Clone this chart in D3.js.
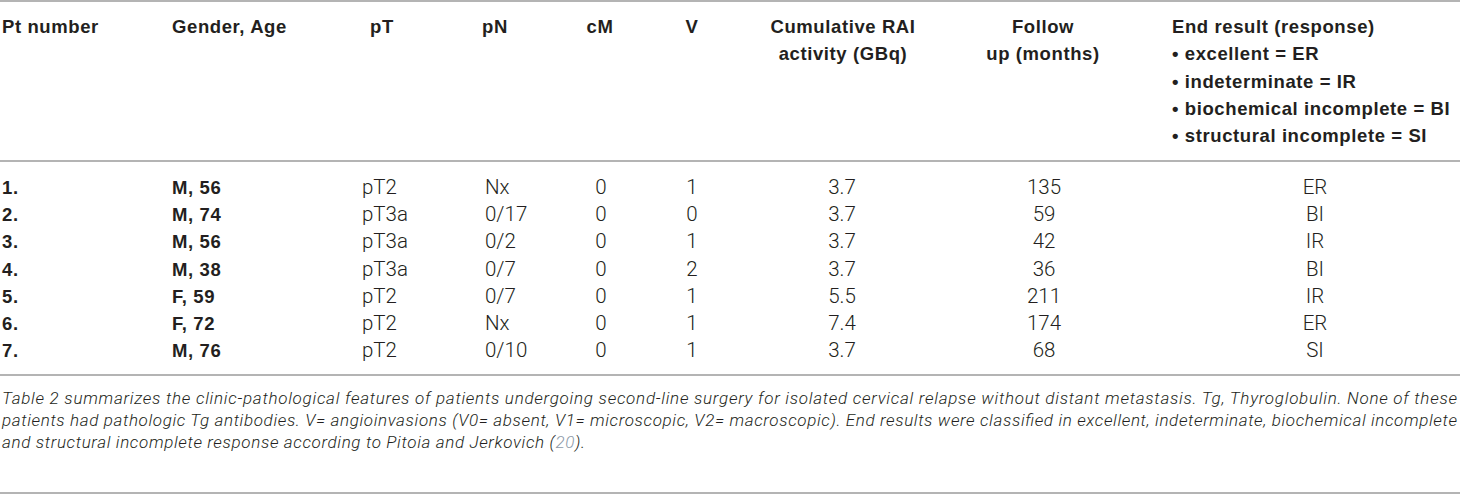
<!DOCTYPE html>
<html>
<head>
<meta charset="utf-8">
<script src="https://cdn.jsdelivr.net/npm/d3@7"></script>
<style>
  body { margin: 0; background: #fff; }
  svg { display: block; }
  .head { font-family: "Liberation Sans", Arial, sans-serif; font-weight: bold; font-size: 18.5px; letter-spacing: 0.6px; fill: #231f20; }
  .cell { font-family: Roboto, "Liberation Sans", sans-serif; font-weight: 300; font-size: 20.5px; fill: #231f20; }
  .cell.bold { font-family: "Liberation Sans", Arial, sans-serif; font-weight: bold; font-size: 18.5px; letter-spacing: 0.6px; }
  .caption { font-family: Roboto, "Liberation Sans", sans-serif; font-weight: 300; font-style: italic; font-size: 17px; fill: #231f20; }
</style>
</head>
<body>
<div id="table"></div>
<script>
var width = 1460, height = 494;

// table values
var ptNumbers = ["1.", "2.", "3.", "4.", "5.", "6.", "7."];
var genderAge = ["M, 56", "M, 74", "M, 56", "M, 38", "F, 59", "F, 72", "M, 76"];
var pT = ["pT2", "pT3a", "pT3a", "pT3a", "pT2", "pT2", "pT2"];
var pN = ["Nx", "0/17", "0/2", "0/7", "0/7", "Nx", "0/10"];
var cM = [0, 0, 0, 0, 0, 0, 0];
var V = [1, 0, 1, 2, 1, 1, 1];
var raiActivity = [3.7, 3.7, 3.7, 3.7, 5.5, 7.4, 3.7];
var followUp = [135, 59, 42, 36, 211, 174, 68];
var endResult = ["ER", "BI", "IR", "BI", "IR", "ER", "SI"];

var headers = [
    ["Pt number"],
    ["Gender, Age"],
    ["pT"],
    ["pN"],
    ["cM"],
    ["V"],
    ["Cumulative RAI", "activity (GBq)"],
    ["Follow", "up (months)"],
    ["End result (response)", "\u2022 excellent = ER", "\u2022 indeterminate = IR",
     "\u2022 biochemical incomplete = BI", "\u2022 structural incomplete = SI"]
];

var captionLines = [
    "Table 2 summarizes the clinic-pathological features of patients undergoing second-line surgery for isolated cervical relapse without distant metastasis. Tg, Thyroglobulin. None of these",
    "patients had pathologic Tg antibodies. V= angioinvasions (V0= absent, V1= microscopic, V2= macroscopic). End results were classified in excellent, indeterminate, biochemical incomplete",
    "and structural incomplete response according to Pitoia and Jerkovich ("
];
var captionRef = "20";
var captionEnd = ").";
var captionWidths = [1455, 1455, 583];

var columns = [
    {values: ptNumbers, hx: 2, ha: "start", dx: 2, da: "start", bold: true},
    {values: genderAge, hx: 172, ha: "start", dx: 172, da: "start", bold: true},
    {values: pT, hx: 382, ha: "middle", dx: 362, da: "start"},
    {values: pN, hx: 495, ha: "middle", dx: 485, da: "start"},
    {values: cM, hx: 600, ha: "middle", dx: 601, da: "middle"},
    {values: V, hx: 692, ha: "middle", dx: 692, da: "middle"},
    {values: raiActivity, hx: 843, ha: "middle", dx: 842, da: "middle", fmt: d3.format(".1f")},
    {values: followUp, hx: 1043, ha: "middle", dx: 1044, da: "middle"},
    {values: endResult, hx: 1172, ha: "start", dx: 1315, da: "middle"}
];

var svg = d3.select("#table")
    .append("svg")
    .attr("width", width)
    .attr("height", height);

// rows
var y = d3.scalePoint()
    .domain(ptNumbers)
    .range([194, 357]);

// header line positions
var headY = d3.scaleLinear()
    .domain([0, 4])
    .range([33, 142]);

// rules
var rules = [1, 161, 375, 493];
svg.selectAll("line.rule")
    .data(rules)
    .join("line")
    .attr("class", "rule")
    .attr("x1", 0)
    .attr("x2", width)
    .attr("y1", d => d)
    .attr("y2", d => d)
    .attr("stroke", "#9b9b9b")
    .attr("stroke-width", 1.4);

// headers
var headG = svg.selectAll("text.head")
    .data(columns)
    .join("text")
    .attr("class", "head")
    .attr("text-anchor", d => d.ha);

headG.selectAll("tspan")
    .data((d, i) => headers[i].map(t => ({t: t, x: d.hx})))
    .join("tspan")
    .attr("x", d => d.x)
    .attr("y", (d, i) => headY(i))
    .text(d => d.t);

// body cells
columns.forEach(function (col) {
    svg.append("g")
        .selectAll("text")
        .data(col.values)
        .join("text")
        .attr("class", col.bold ? "cell bold" : "cell")
        .attr("text-anchor", col.da)
        .attr("x", col.dx)
        .attr("y", (d, i) => y(ptNumbers[i]))
        .text(d => col.fmt ? col.fmt(d) : d);
});

// caption, lines stretched to the widths of the original
var capY = d3.scaleLinear()
    .domain([0, 2])
    .range([404, 448]);

var cap = svg.selectAll("text.caption")
    .data(captionLines)
    .join("text")
    .attr("class", "caption")
    .attr("x", 2)
    .attr("y", (d, i) => capY(i))
    .attr("textLength", (d, i) => captionWidths[i])
    .attr("lengthAdjust", "spacing");

cap.append("tspan").text(d => d);

var lastLine = cap.filter((d, i) => i === 2);
lastLine.append("tspan").attr("fill", "#8d9aa8").text(captionRef);
lastLine.append("tspan").text(captionEnd);
</script>
</body>
</html>
